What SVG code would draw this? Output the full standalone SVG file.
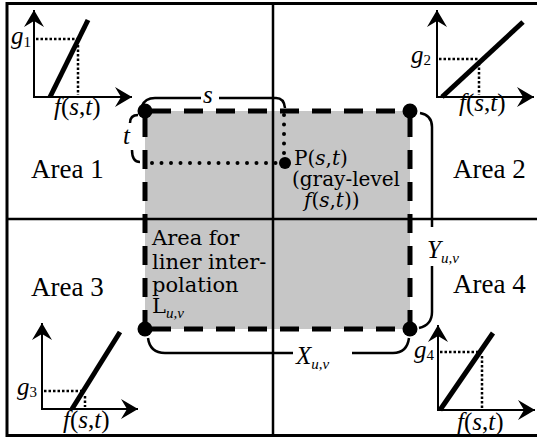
<svg xmlns="http://www.w3.org/2000/svg" width="537" height="439" viewBox="0 0 537 439">
<defs>
<marker id="arr" markerUnits="userSpaceOnUse" markerWidth="20" markerHeight="24" refX="0" refY="0" viewBox="-18 -11 20 22" orient="auto" overflow="visible">
<path d="M0,0 L-17,-10 L-11,0 L-17,10 Z" fill="#000"/>
</marker>
</defs>
<style>
.frame{fill:none;stroke:#000;stroke-width:3}
.mid{stroke:#000;stroke-width:2.5;fill:none}
.axis{stroke:#000;stroke-width:2;fill:none;marker-end:url(#arr)}
.curve{stroke:#000;stroke-width:5;fill:none}
.gdot{stroke:#000;stroke-width:2.5;stroke-dasharray:2.5 2;fill:none}
.dash{stroke:#000;stroke-width:5;stroke-dasharray:19 13;fill:none}
.pdot{stroke:#000;stroke-width:4;stroke-dasharray:0 9.5;stroke-linecap:round;fill:none}
.br{stroke:#000;stroke-width:2.5;fill:none}
.area{font-family:"Liberation Serif",serif;font-size:27px;fill:#000}
.lab{font-family:"Liberation Serif",serif;font-size:25px;fill:#000}
.sub{font-family:"Liberation Serif",serif;font-size:15px;fill:#000}
.cen{font-family:"DejaVu Serif",serif;font-size:21px;fill:#000}
.pt{font-family:"DejaVu Serif",serif;font-size:20px;fill:#000}
.it{font-style:italic}
</style>
<rect width="537" height="439" fill="#fff"/>

<g id="interpolation-area">
<rect x="145" y="111" width="265" height="218" fill="#c6c6c6"/>
</g>

<g id="grid">
<path class="frame" d="M540,3.5 L7,3.5 L7,435.5 L540,435.5"/>
<line class="mid" x1="273" y1="3" x2="273" y2="436"/>
<line class="mid" x1="7" y1="219" x2="537" y2="219"/>
</g>

<g id="interpolation-border">
<path class="dash" d="M152,111 L402,111"/>
<path class="dash" d="M152,329 L402,329"/>
<path class="dash" d="M145,118 L145,322"/>
<path class="dash" d="M410,118 L410,322"/>
<circle cx="145" cy="111" r="7.5"/>
<circle cx="410" cy="111" r="7.5"/>
<circle cx="145" cy="329" r="7.5"/>
<circle cx="410" cy="329" r="7.5"/>
<text class="cen" x="152" y="245">Area for</text>
<text class="cen" x="152" y="269">liner inter-</text>
<text class="cen" x="152" y="292">polation</text>
<text class="cen" x="152" y="313">L<tspan class="sub it" dy="5">u,v</tspan></text>
</g>

<g id="connectors">
<path class="pdot" d="M152,163 L280,163"/>
<path class="pdot" d="M284,115 L284,158"/>
<path class="br" d="M142,106 Q145,98 155,98 L201,98 M219,98 L276,98 Q284,98 285,108"/>
<path class="br" d="M130,123 Q130,115 138,115 M132,150 Q132,162 140,162"/>
<path class="br" d="M420,113 Q432,115 432,127 L432,227 M432,266 L432,312 Q432,325 419,328"/>
<path class="br" d="M148,338 Q150,353 165,353 L293,353 M352,353 L393,353 Q407,353 409,338"/>
<text class="lab it" x="203" y="103">s</text>
<text class="lab it" x="123" y="144">t</text>
<text class="lab it" x="427" y="258">Y<tspan class="sub" dy="5">u,v</tspan></text>
<text class="lab it" x="296" y="364">X<tspan class="sub" dy="5">u,v</tspan></text>
</g>

<g id="point-p">
<circle cx="285" cy="163" r="6"/>
<text class="pt" x="294" y="165">P(<tspan class="it">s</tspan>,<tspan class="it">t</tspan>)</text>
<text class="pt" x="292" y="186">(gray-level</text>
<text class="pt" x="304" y="207"><tspan class="it">f</tspan>(<tspan class="it">s</tspan>,<tspan class="it">t</tspan>))</text>
</g>

<g id="area1">
<text class="area" x="31" y="178">Area 1</text>
</g>
<g id="area2">
<text class="area" x="453" y="178">Area 2</text>
</g>
<g id="area3">
<text class="area" x="31" y="296">Area 3</text>
</g>
<g id="area4">
<text class="area" x="453" y="293">Area 4</text>
</g>

<g id="graph1">
<path class="gdot" d="M36,39 L78,39 M78,45 L78,95"/>
<line class="axis" x1="34" y1="98" x2="34" y2="10"/>
<line class="axis" x1="33" y1="97" x2="132" y2="97"/>
<line class="curve" x1="50" y1="97" x2="88" y2="20"/>
<text class="lab it" x="11" y="44">g<tspan class="sub" font-style="normal" dy="3">1</tspan></text>
<text class="lab" x="54" y="115"><tspan class="it">f</tspan>(<tspan class="it">s</tspan>,<tspan class="it">t</tspan>)</text>
</g>

<g id="graph2">
<path class="gdot" d="M439,59 L479,59 M479,63 L479,95"/>
<line class="axis" x1="437" y1="98" x2="437" y2="10"/>
<line class="axis" x1="436" y1="97" x2="534" y2="97"/>
<line class="curve" x1="442" y1="97" x2="523" y2="22"/>
<text class="lab it" x="411" y="63">g<tspan class="sub" font-style="normal" dy="2">2</tspan></text>
<text class="lab" x="459" y="111"><tspan class="it">f</tspan>(<tspan class="it">s</tspan>,<tspan class="it">t</tspan>)</text>
</g>

<g id="graph3">
<path class="gdot" d="M44,391 L82,391 M85,396 L85,407"/>
<line class="axis" x1="42" y1="410" x2="42" y2="323"/>
<line class="axis" x1="41" y1="409" x2="138" y2="409"/>
<line class="curve" x1="72" y1="409" x2="120" y2="332"/>
<text class="lab it" x="17" y="395">g<tspan class="sub" font-style="normal" dy="2">3</tspan></text>
<text class="lab" x="63" y="428"><tspan class="it">f</tspan>(<tspan class="it">s</tspan>,<tspan class="it">t</tspan>)</text>
</g>

<g id="graph4">
<path class="gdot" d="M440,352 L482,352 M482,356 L482,408"/>
<line class="axis" x1="438" y1="411" x2="438" y2="325"/>
<line class="axis" x1="437" y1="410" x2="535" y2="410"/>
<line class="curve" x1="440" y1="410" x2="493" y2="333"/>
<text class="lab it" x="414" y="358">g<tspan class="sub" font-style="normal" dy="2">4</tspan></text>
<text class="lab" x="457" y="430"><tspan class="it">f</tspan>(<tspan class="it">s</tspan>,<tspan class="it">t</tspan>)</text>
</g>
</svg>
